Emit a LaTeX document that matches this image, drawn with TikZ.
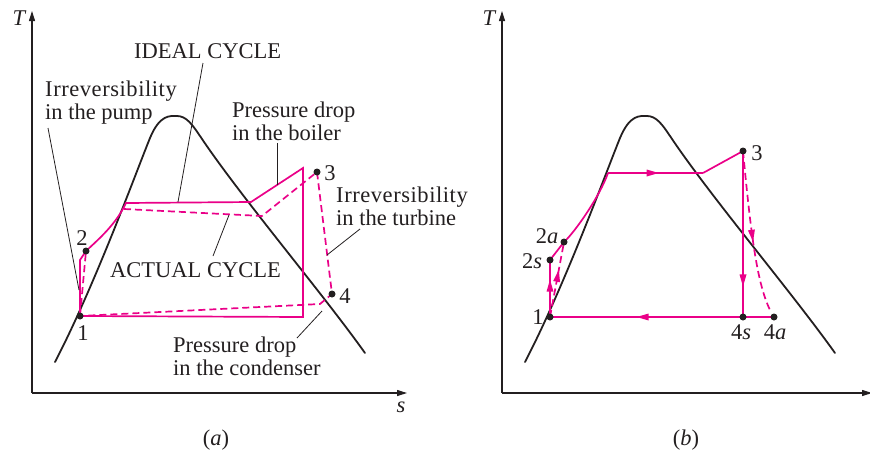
\documentclass[tikz,border=0pt]{standalone}
\usepackage{fontspec}
\setmainfont{Liberation Serif}
\usetikzlibrary{decorations.markings,arrows.meta}
\definecolor{pk}{RGB}{234,0,136}
\definecolor{ink}{RGB}{35,31,32}
\newcommand\domecurve{(55,362) .. controls (95,285) and (135,175) .. (150,138)
  .. controls (160,114) and (170,116) .. (177,116)
  .. controls (186,116) and (192,124) .. (200,136)
  .. controls (240,196) and (320,290) .. (365,353)}
\newcommand\irrev{{\addfontfeature{LetterSpace=2.5}Irreversibility}}
\begin{document}
\begin{tikzpicture}[x=1pt,y=-1pt,
  dome/.style={line width=1.8pt, ink, line cap=round},
  cyc/.style={line width=1.7pt, pk, line join=miter},
  dcyc/.style={cyc, dash pattern=on 7pt off 4pt},
  lead/.style={line width=0.8pt, ink},
  axis/.style={line width=1.1pt, ink, -{Triangle[length=10pt,width=6pt]}},
  lbl/.style={font=\fontsize{22.5}{23}\selectfont, text=ink, inner sep=0pt, align=left},
  ilbl/.style={lbl, font=\fontsize{22.5}{23}\selectfont\itshape},
  dot/.style={circle, fill=ink, inner sep=0pt, minimum size=7pt},
  midarrow/.style={postaction={decorate,decoration={markings,
     mark=at position #1 with {\fill[pk] (6pt,0pt) -- (-6pt,3.5pt) -- (-6pt,-3.5pt) -- cycle;}}}},
]
\useasboundingbox (0,0) rectangle (870,453);

% ---------------- panel (a) ----------------
\coordinate (oa) at (32,393);
\coordinate (ya) at (32,11);
\coordinate (xa) at (407,393);
\draw[axis] (oa) -- (ya);
\draw[axis] (oa) -- (xa);
\node[ilbl] (Ta) at (19,18) {T};
\node[ilbl] (sa) at (401,407) {s};
\node[lbl] (capa) at (216,440) {(\textit{a})};

\draw[dome] \domecurve;

\coordinate (a1) at (80,316);
\coordinate (a2) at (86,251);
\coordinate (a2i) at (80,260);
\coordinate (af) at (126,203);
\coordinate (ag) at (251,202);
\coordinate (ab) at (303,168);
\coordinate (abot) at (303,317);
\coordinate (a3) at (317,172);
\coordinate (a4) at (332,294);
\coordinate (ac) at (320,304);
\coordinate (ad1) at (124,209);
\coordinate (ad2) at (262,216);

\draw[cyc] (a1) -- (a2i) -- (a2) .. controls (100,238) and (116,224) .. (af) -- (ag) -- (ab) -- (abot) -- (a1);
\draw[dcyc] (a1) -- (a2);
\draw[dcyc] (ad1) -- (ad2) -- (a3) -- (a4) -- (ac) -- (a1);

\node[dot] (d1) at (a1) {};
\node[dot] (d2) at (a2) {};
\node[dot] (d3) at (a3) {};
\node[dot] (d4) at (a4) {};
\node[lbl] (n1) at (83,333) {1};
\node[lbl] (n2) at (82,238) {2};
\node[lbl] (n3) at (330,173) {3};
\node[lbl] (n4) at (345,296) {4};

\node[lbl, anchor=west] (ideal) at (134,51) {IDEAL CYCLE};
\node[lbl, anchor=west] (pump) at (45,103) {\irrev\\in the pump};
\node[lbl, anchor=west] (boiler) at (232,121) {Pressure drop\\in the boiler};
\node[lbl, anchor=west] (turb) at (336,206) {\irrev\\in the turbine};
\node[lbl, anchor=west] (actual) at (110,270) {ACTUAL CYCLE};
\node[lbl, anchor=west] (cond) at (173,356) {Pressure drop\\in the condenser};

\coordinate (Li0) at (203,63);   \coordinate (Li1) at (178,202);
\coordinate (Lp0) at (48,128);   \coordinate (Lp1) at (79,290);
\coordinate (Lb0) at (277,143);  \coordinate (Lb1) at (277,185);
\coordinate (Lt0) at (360,229);  \coordinate (Lt1) at (327,255);
\coordinate (La0) at (213,256);  \coordinate (La1) at (229,215);
\coordinate (Lc0) at (297,338);  \coordinate (Lc1) at (322,311);
\draw[lead] (Li0) -- (Li1);
\draw[lead] (Lp0) -- (Lp1);
\draw[lead] (Lb0) -- (Lb1);
\draw[lead] (Lt0) -- (Lt1);
\draw[lead] (La0) -- (La1);
\draw[lead] (Lc0) -- (Lc1);

% ---------------- panel (b) ----------------
\coordinate (ob) at (502,393);
\coordinate (yb) at (502,11);
\coordinate (xb) at (872,393);
\draw[axis] (ob) -- (yb);
\draw[axis] (ob) -- (xb);
\node[ilbl] (Tb) at (489,18) {T};
\node[ilbl] (sb) at (875,407) {s};
\node[lbl] (capb) at (686,440) {(\textit{b})};

\begin{scope}[xshift=470pt]
\draw[dome] \domecurve;
\end{scope}

\coordinate (b1) at (550,317);
\coordinate (b2s) at (550,260);
\coordinate (b2a) at (564,242);
\coordinate (bf) at (608,173);
\coordinate (bg) at (703,173);
\coordinate (b3) at (743,151);
\coordinate (b4s) at (743,317);
\coordinate (b4a) at (774,317);
\coordinate (bend) at (771,312);

\draw[cyc, midarrow=0.55] (b1) -- (b2s);
\draw[cyc] (b2s) -- (b2a) .. controls (575,232) and (600,196) .. (bf);
\draw[cyc, midarrow=0.47] (bf) -- (bg);
\draw[cyc] (bg) -- (b3);
\draw[cyc, midarrow=0.78] (b3) -- (b4s);
\draw[cyc, midarrow=0.52] (b4s) -- (b1);
\draw[cyc] (b4s) -- (b4a);
\draw[dcyc, midarrow=0.55] (b1) -- (b2a);
\draw[dcyc, midarrow=0.52] (b3) .. controls (751,235) and (757,285) .. (bend);

\node[dot] (e1) at (b1) {};
\node[dot] (e2s) at (b2s) {};
\node[dot] (e2a) at (b2a) {};
\node[dot] (e3) at (b3) {};
\node[dot] (e4s) at (b4s) {};
\node[dot] (e4a) at (b4a) {};
\node[lbl] (m1) at (538,317) {1};
\node[lbl] (m2s) at (532,261) {2\textit{s}};
\node[lbl] (m2a) at (547,236) {2\textit{a}};
\node[lbl] (m3) at (757,153) {3};
\node[lbl] (m4s) at (741,332) {4\textit{s}};
\node[lbl] (m4a) at (775,332) {4\textit{a}};
\end{tikzpicture}
\end{document}
